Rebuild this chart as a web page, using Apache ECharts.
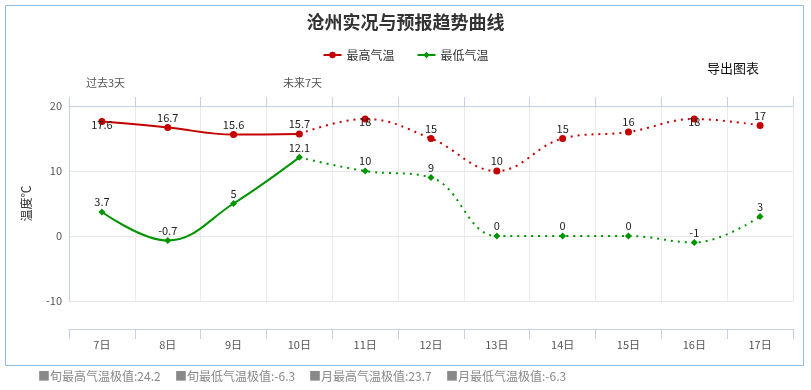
<!DOCTYPE html>
<html><head><meta charset="utf-8">
<script src="https://cdn.jsdelivr.net/npm/echarts@6/dist/echarts.min.js"></script>
<style>html,body{margin:0;padding:0;background:#fff}#c{width:811px;height:390px}</style>
</head><body><div id="c"></div>
<script>
const days = ['7日','8日','9日','10日','11日','12日','13日','14日','15日','16日','17日'];
const highActual = [17.6, 16.7, 15.6, 15.7];
const highForecast = [18, 15, 10, 15, 16, 18, 17];
const lowActual = [3.7, -0.7, 5, 12.1];
const lowForecast = [10, 9, 0, 0, 0, -1, 3];
const yTicks = [-10, 0, 10, 20];
const extremes = ['■旬最高气温极值:24.2', '■旬最低气温极值:-6.3', '■月最高气温极值:23.7', '■月最低气温极值:-6.3'];

const RED = '#c40000', GREEN = '#009400';
const FONT = '"Noto Sans CJK SC", "Noto Sans", sans-serif';

function lbl(v, isHigh) {
  if (isHigh && v >= 17.5) return {show: true, position: 'inside', offset: [0, 3]};
  return undefined;
}
function actualData(vals, isHigh) {
  const d = days.map(() => '-');
  vals.forEach((v, i) => { const it = {value: v}; const l = lbl(v, isHigh); if (l) it.label = l; d[i] = it; });
  return d;
}
function forecastData(act, fc, isHigh) {
  const d = days.map(() => '-');
  const j = act.length - 1;
  d[j] = {value: act[j], symbol: 'none', label: {show: false}};
  fc.forEach((v, i) => { const it = {value: v}; const l = lbl(v, isHigh); if (l) it.label = l; d[j + 1 + i] = it; });
  return d;
}
const labelCfg = {show: true, position: 'top', distance: 1, color: '#222', fontSize: 11, fontFamily: FONT};

const chart = echarts.init(document.getElementById('c'));
chart.setOption({
  animation: false,
  textStyle: {fontFamily: FONT},
  title: {text: '沧州实况与预报趋势曲线', left: 'center', top: 8,
    textStyle: {fontSize: 18, fontWeight: 'bold', color: '#333', fontFamily: FONT}},
  legend: {top: 44, left: 'center', itemWidth: 18, itemHeight: 8, itemGap: 22,
    data: ['最高气温', '最低气温'],
    textStyle: {fontSize: 12, color: '#333', fontFamily: FONT}},
  grid: {left: 69, right: 18, top: 106, bottom: 89},
  xAxis: [
    {type: 'category', data: days, position: 'bottom', offset: 28,
      axisLine: {show: true, onZero: false, lineStyle: {color: '#c3d0e8'}},
      axisTick: {show: true, inside: false, length: 10, alignWithLabel: false, lineStyle: {color: '#c3d0e8', width: 1}},
      axisLabel: {color: '#555', fontSize: 11, margin: 10, fontFamily: FONT},
      splitLine: {show: false}},
    {type: 'category', data: days, position: 'top',
      axisLine: {show: true, onZero: false, lineStyle: {color: '#c3d0e8'}},
      axisTick: {show: true, inside: false, length: 9, alignWithLabel: false, lineStyle: {color: '#c3d0e8', width: 1}},
      axisLabel: {show: false},
      splitLine: {show: true, lineStyle: {color: '#ebebeb'}}}
  ],
  yAxis: {type: 'value', min: yTicks[0], max: yTicks[yTicks.length - 1], interval: 10,
    name: '温度℃', nameLocation: 'middle', nameGap: 37, nameRotate: 90,
    nameTextStyle: {fontSize: 12, color: '#333', fontFamily: FONT},
    axisLine: {show: true, onZero: false, lineStyle: {color: '#c3d0e8'}},
    axisTick: {show: false},
    axisLabel: {color: '#555', fontSize: 11, margin: 7, fontFamily: FONT},
    splitLine: {lineStyle: {color: '#e6e6e6'}}},
  series: [
    {name: '最高气温', type: 'line', smooth: 0.4, data: actualData(highActual, true),
      symbol: 'circle', symbolSize: 7, itemStyle: {color: RED}, lineStyle: {color: RED, width: 2},
      label: labelCfg, z: 3},
    {name: '最高气温', type: 'line', smooth: 0.4, data: forecastData(highActual, highForecast, true),
      symbol: 'circle', symbolSize: 7, itemStyle: {color: RED}, lineStyle: {color: RED, width: 2, type: [2, 5]},
      label: labelCfg, z: 3},
    {name: '最低气温', type: 'line', smooth: 0.4, data: actualData(lowActual, false),
      symbol: 'diamond', symbolSize: 7, itemStyle: {color: GREEN}, lineStyle: {color: GREEN, width: 2},
      label: labelCfg, z: 2},
    {name: '最低气温', type: 'line', smooth: 0.4, data: forecastData(lowActual, lowForecast, false),
      symbol: 'diamond', symbolSize: 7, itemStyle: {color: GREEN}, lineStyle: {color: GREEN, width: 2, type: [2, 5]},
      label: labelCfg, z: 2}
  ],
  graphic: [
    {type: 'rect', shape: {x: 5.5, y: 5.5, width: 798, height: 360}, style: {fill: 'none', stroke: '#8fbbe6', lineWidth: 1}, silent: true, z: -1},
    {type: 'text', left: 86, top: 77, style: {text: '过去3天', fill: '#555', font: '11px ' + FONT}},
    {type: 'text', left: 283, top: 77, style: {text: '未来7天', fill: '#555', font: '11px ' + FONT}},
    {type: 'text', left: 707, top: 62, style: {text: '导出图表', fill: '#111', font: '13px ' + FONT}},
    {type: 'text', left: 38, top: 370, style: {text: extremes[0], fill: '#888', font: '12px ' + FONT}},
    {type: 'text', left: 175, top: 370, style: {text: extremes[1], fill: '#888', font: '12px ' + FONT}},
    {type: 'text', left: 309, top: 370, style: {text: extremes[2], fill: '#888', font: '12px ' + FONT}},
    {type: 'text', left: 446, top: 370, style: {text: extremes[3], fill: '#888', font: '12px ' + FONT}}
  ]
});
</script></body></html>
